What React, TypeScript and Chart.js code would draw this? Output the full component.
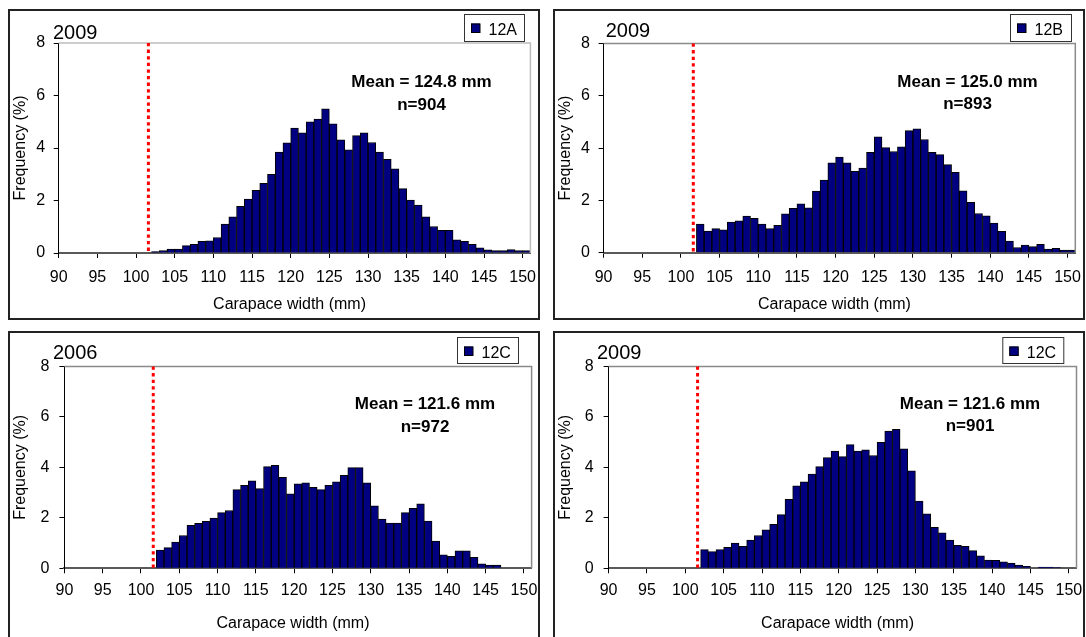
import React, { useEffect, useRef } from 'react';
import { Chart, registerables } from 'chart.js';

Chart.register(...registerables);

const FONT = '"Liberation Sans", Arial, Helvetica, sans-serif';

// Carapace-width bins (left edge of each 1 mm class)
const bins = [
  102, 103, 104, 105, 106, 107, 108, 109, 110, 111, 112, 113, 114, 115, 116, 117,
  118, 119, 120, 121, 122, 123, 124, 125, 126, 127, 128, 129, 130, 131, 132, 133,
  134, 135, 136, 137, 138, 139, 140, 141, 142, 143, 144, 145, 146, 147, 148, 149, 150,
];

const xTickLabels = [90, 95, 100, 105, 110, 115, 120, 125, 130, 135, 140, 145, 150];
const yTickLabels = [0, 2, 4, 6, 8];

// Frequency (%) per bin
const freq12A2009 = [
  0.05, 0.09, 0.15, 0.15, 0.28, 0.33, 0.44, 0.46, 0.59, 1.10, 1.38, 1.78, 2.05, 2.39, 2.65, 3.00,
  3.84, 4.20, 4.76, 4.58, 5.00, 5.10, 5.49, 4.92, 4.31, 3.93, 4.47, 4.58, 4.21, 3.84, 3.57, 3.21,
  2.45, 2.02, 1.83, 1.38, 1.01, 0.86, 0.86, 0.50, 0.44, 0.33, 0.20, 0.12, 0.09, 0.09, 0.13, 0.09, 0.09,
];
const freq12B2009 = [
  1.09, 0.83, 0.92, 0.87, 1.17, 1.22, 1.40, 1.31, 1.09, 0.92, 1.05, 1.49, 1.70, 1.87, 1.72, 2.36,
  2.78, 3.44, 3.66, 3.44, 3.11, 3.24, 3.84, 4.43, 4.02, 3.87, 4.05, 4.67, 4.74, 4.33, 3.84, 3.75,
  3.37, 3.07, 2.37, 1.93, 1.50, 1.41, 1.13, 0.82, 0.44, 0.20, 0.29, 0.23, 0.32, 0.14, 0.17, 0.10, 0.10,
];
const freq12C2006 = [
  0.72, 0.82, 1.04, 1.30, 1.70, 1.78, 1.86, 1.99, 2.21, 2.29, 3.12, 3.29, 3.47, 3.16, 4.03, 4.08,
  3.61, 2.95, 3.35, 3.39, 3.21, 3.12, 3.29, 3.43, 3.69, 3.99, 3.99, 3.39, 2.48, 1.95, 1.79, 1.79,
  2.21, 2.38, 2.56, 1.87, 1.08, 0.53, 0.47, 0.69, 0.69, 0.43, 0.18, 0.13, 0.13, 0, 0, 0, 0,
];
const freq12C2009 = [
  0.74, 0.66, 0.74, 0.83, 1.00, 0.87, 1.12, 1.30, 1.53, 1.74, 2.13, 2.73, 3.27, 3.43, 3.74, 4.03,
  4.39, 4.65, 4.43, 4.90, 4.65, 4.70, 4.47, 4.99, 5.44, 5.51, 4.74, 3.86, 2.66, 2.16, 1.62, 1.41,
  1.12, 0.91, 0.87, 0.70, 0.49, 0.33, 0.32, 0.26, 0.21, 0.13, 0.08, 0, 0.05, 0.05, 0.03, 0, 0,
];

const years = ['2009', '2009', '2006', '2009'];
const areas = ['12A', '12B', '12C', '12C'];
const means = ['Mean = 124.8 mm', 'Mean = 125.0 mm', 'Mean = 121.6 mm', 'Mean = 121.6 mm'];
const counts = ['n=904', 'n=893', 'n=972', 'n=901'];
const series = [freq12A2009, freq12B2009, freq12C2006, freq12C2009];
const minimumSize = 101.6;
const xTitle = 'Carapace width (mm)';
const yTitle = 'Frequency (%)';

// Layout (canvas coordinates within each framed panel)
const layouts = [
  { x: 8, y: 9, w: 532, h: 311, left: 50.7, top: 34, right: 522.4, bottom: 244, xPad: 10, yPad: 8.6, xTitleY: 295.5,
    yearX: 45, yearY: 29.5, meanX: 413.5, meanY1: 78.3, meanY2: 101, legX: 456, legY: 5, legW: 60, legH: 27, frame: '#bdbdbd' },
  { x: 553, y: 9, w: 532, h: 311, left: 50.6, top: 34.5, right: 522.3, bottom: 243.7, xPad: 10, yPad: 8.6, xTitleY: 295.5,
    yearX: 52.7, yearY: 28.3, meanX: 414.5, meanY1: 78.3, meanY2: 100, legX: 457, legY: 5, legW: 61, legH: 27, frame: '#8a8a8a' },
  { x: 8, y: 331, w: 532, h: 320, left: 56.4, top: 35.5, right: 523.6, bottom: 237.3, xPad: 8, yPad: 10, xTitleY: 292.5,
    yearX: 45, yearY: 28, meanX: 417, meanY1: 78.3, meanY2: 100.7, legX: 449, legY: 6, legW: 61, legH: 26, frame: '#8a8a8a' },
  { x: 553, y: 331, w: 532, h: 320, left: 55.6, top: 35.5, right: 523.5, bottom: 237.3, xPad: 8, yPad: 10, xTitleY: 292.5,
    yearX: 44, yearY: 28, meanX: 417, meanY1: 78.3, meanY2: 99.7, legX: 449.3, legY: 6, legW: 61, legH: 26, frame: '#8a8a8a' },
];

const annotate = {
  id: 'annotate',
  afterDatasetsDraw(chart: any, _args: any, opts: any) {
    const { ctx, chartArea: a } = chart;
    const xs = chart.scales.x;
    const L = opts.layout;
    ctx.save();
    // plot-area border (top and right)
    ctx.strokeStyle = L.frame;
    ctx.lineWidth = 1.5;
    ctx.beginPath();
    ctx.moveTo(a.left, a.top);
    ctx.lineTo(a.right, a.top);
    ctx.lineTo(a.right, a.bottom);
    ctx.stroke();
    // minimum legal size line
    const px = xs.getPixelForValue(opts.limit);
    ctx.strokeStyle = '#ff0000';
    ctx.lineWidth = 3;
    ctx.setLineDash([3.3, 3.3]);
    ctx.beginPath();
    ctx.moveTo(px, a.top);
    ctx.lineTo(px, a.bottom);
    ctx.stroke();
    ctx.setLineDash([]);
    // x axis title (Excel centres it slightly left of the plot centre)
    ctx.fillStyle = '#000';
    ctx.font = `16px ${FONT}`;
    ctx.textAlign = 'center';
    ctx.textBaseline = 'middle';
    ctx.fillText(opts.xTitle, (a.left + a.right) / 2 - 5, L.xTitleY);
    // year
    ctx.textAlign = 'left';
    ctx.textBaseline = 'alphabetic';
    ctx.font = `20px ${FONT}`;
    ctx.fillText(opts.year, L.yearX, L.yearY);
    // mean text
    ctx.font = `bold 17px ${FONT}`;
    ctx.textAlign = 'center';
    ctx.fillText(opts.mean, L.meanX, L.meanY1);
    ctx.fillText(opts.count, L.meanX, L.meanY2);
    // legend
    ctx.fillStyle = '#fff';
    ctx.fillRect(L.legX, L.legY, L.legW, L.legH);
    ctx.strokeStyle = '#333';
    ctx.lineWidth = 1;
    ctx.strokeRect(L.legX + 0.5, L.legY + 0.5, L.legW, L.legH);
    ctx.fillStyle = '#000080';
    ctx.fillRect(L.legX + 7, L.legY + 9.5, 9, 9);
    ctx.strokeStyle = '#000';
    ctx.strokeRect(L.legX + 7.5, L.legY + 10, 8.5, 8.5);
    ctx.fillStyle = '#000';
    ctx.font = `16px ${FONT}`;
    ctx.textAlign = 'left';
    ctx.fillText(opts.area, L.legX + 24.5, L.legY + 20.5);
    ctx.restore();
  },
};

function Panel({ idx }: { idx: number }) {
  const ref = useRef<HTMLCanvasElement>(null);
  const L = layouts[idx];
  useEffect(() => {
    if (!ref.current) return;
    const values = series[idx];
    const chart = new Chart(ref.current, {
      type: 'bar',
      data: {
        datasets: [
          {
            label: areas[idx],
            data: bins.map((b, i) => ({ x: b + 0.5, y: values[i] })),
            backgroundColor: '#000080',
            borderColor: '#000000',
            borderWidth: 1,
            barPercentage: 1,
            categoryPercentage: 1,
          },
        ],
      },
      options: {
        responsive: false,
        animation: false,
        devicePixelRatio: 1,
        layout: { padding: { left: 0, top: L.top, right: L.w - L.right, bottom: 0 } },
        plugins: {
          legend: { display: false },
          tooltip: { enabled: false },
          annotate: {
            layout: L,
            limit: minimumSize,
            year: years[idx],
            mean: means[idx],
            count: counts[idx],
            area: areas[idx],
            xTitle,
          },
        } as any,
        scales: {
          x: {
            type: 'linear',
            min: 90,
            max: 151,
            offset: false,
            afterBuildTicks: (s: any) => {
              s.ticks = xTickLabels.map((v) => ({ value: v }));
            },
            afterFit: (s: any) => {
              s.height = L.h - L.bottom;
              s.paddingLeft = 0;
              s.paddingRight = 0;
            },
            grid: { display: true, drawOnChartArea: false, drawTicks: true, tickLength: 5, tickColor: '#000', offset: false },
            border: { display: true, color: '#5a5a5a', width: 2 },
            ticks: {
              padding: L.xPad,
              color: '#000',
              font: { size: 16, family: FONT },
              maxRotation: 0,
              autoSkip: false,
              callback: (v: any) => String(v),
            },
            title: { display: false },
          },
          y: {
            min: 0,
            max: 8,
            afterBuildTicks: (s: any) => {
              s.ticks = yTickLabels.map((v) => ({ value: v }));
            },
            afterFit: (s: any) => {
              s.width = L.left;
              s.paddingTop = 0;
              s.paddingBottom = 0;
            },
            grid: { display: true, drawOnChartArea: false, drawTicks: true, tickLength: 5, tickColor: '#000' },
            border: { display: true, color: '#000', width: 1 },
            ticks: {
              padding: L.yPad,
              color: '#000',
              font: { size: 16, family: FONT },
              callback: (v: any) => String(v),
            },
            title: {
              display: true,
              text: yTitle,
              color: '#000',
              font: { size: 16, family: FONT },
              padding: { top: 3.4, bottom: 0 },
            },
          },
        } as any,
      },
      plugins: [annotate],
    });
    return () => chart.destroy();
  }, [idx]);

  return (
    <>
      <canvas
        ref={ref}
        width={L.w}
        height={L.h}
        style={{ position: 'absolute', left: L.x, top: L.y, width: L.w, height: L.h, display: 'block' }}
      />
      <div
        style={{
          position: 'absolute',
          left: L.x,
          top: L.y,
          width: L.w,
          height: L.h,
          border: '2px solid #222',
          boxSizing: 'border-box',
          pointerEvents: 'none',
        }}
      />
    </>
  );
}

export default function App() {
  return (
    <div
      style={{
        position: 'fixed',
        left: 0,
        top: 0,
        width: 1086,
        height: 637,
        overflow: 'hidden',
        background: '#fff',
      }}
    >
      {[0, 1, 2, 3].map((i) => (
        <Panel key={i} idx={i} />
      ))}
    </div>
  );
}
